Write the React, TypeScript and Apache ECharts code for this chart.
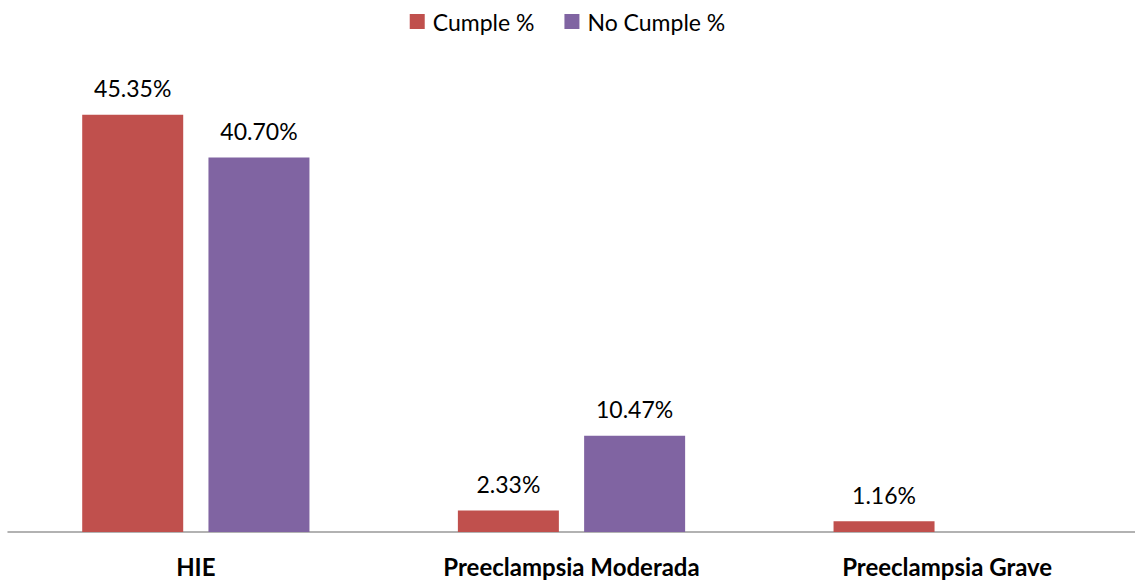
import React, { useEffect, useRef } from "react";
import * as echarts from "echarts";

const categories = ["HIE", "Preeclampsia Moderada", "Preeclampsia Grave"];
const cumple = [45.35, 2.33, 1.16];
const noCumple = [40.7, 10.47, 0];
const seriesNames = ["Cumple %", "No Cumple %"];

const FONT = "Lato, 'Open Sans', sans-serif";

export default function App() {
  const ref = useRef<HTMLDivElement>(null);
  useEffect(() => {
    if (!ref.current) return;
    const chart = echarts.init(ref.current, undefined, { renderer: "svg" });
    const label = {
      show: true,
      position: "top" as const,
      distance: 15,
      fontFamily: FONT,
      fontSize: 23,
      color: "#000",
      formatter: (p: any) => (p.value ? p.value.toFixed(2) + "%" : ""),
    };
    chart.setOption({
      animation: false,
      textStyle: { fontFamily: FONT },
      legend: {
        top: 5,
        left: "center",
        itemWidth: 15,
        itemHeight: 15,
        itemGap: 30,
        icon: "rect",
        textStyle: {
          fontFamily: FONT,
          fontSize: 23,
          color: "#000",
          padding: [0, 0, 0, 3],
        },
        data: seriesNames,
      },
      grid: { left: 8, width: 1133, top: 72, bottom: 49, containLabel: false },
      xAxis: {
        type: "category",
        data: categories,
        axisLine: { lineStyle: { color: "#999", width: 1.5 } },
        axisTick: { show: false },
        axisLabel: {
          fontFamily: FONT,
          fontSize: 24,
          fontWeight: "bold",
          color: "#000",
          margin: 22,
        },
      },
      yAxis: {
        type: "value",
        min: 0,
        max: 50,
        show: false,
        splitLine: { show: false },
      },
      series: [
        {
          name: seriesNames[0],
          type: "bar",
          data: cumple,
          barWidth: 101,
          barGap: "25%",
          itemStyle: { color: "#C0504D" },
          label,
        },
        {
          name: seriesNames[1],
          type: "bar",
          data: noCumple,
          barWidth: 101,
          itemStyle: { color: "#8064A2" },
          label,
        },
      ],
    });
    return () => chart.dispose();
  }, []);
  return (
    <div
      ref={ref}
      style={{ position: "absolute", left: 0, top: 0, width: 1135, height: 581 }}
    />
  );
}
